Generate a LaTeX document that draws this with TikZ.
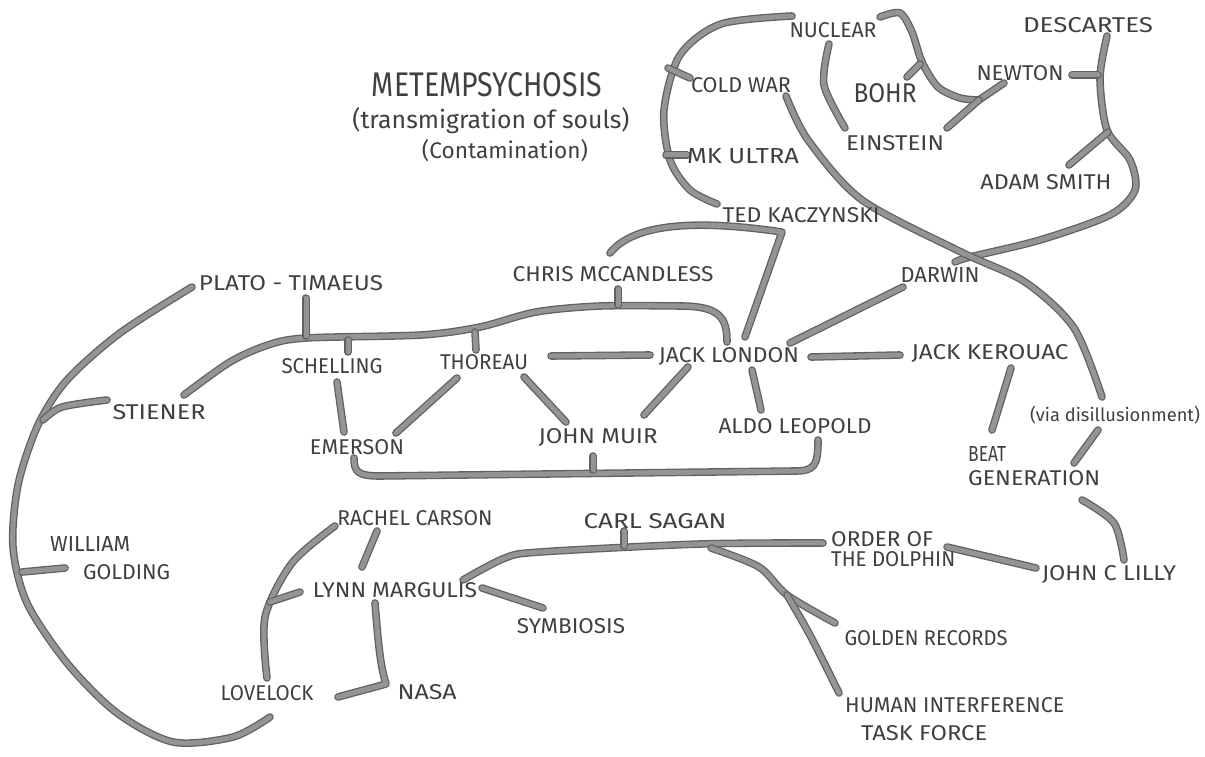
\documentclass[tikz,border=0pt]{standalone}
\usepackage{graphicx}
\usepackage{fontspec}
\setmainfont{Fira Sans}
\newcommand\hw[3][15]{\resizebox{#2pt}{#1pt}{#3}}
\newcommand\sw[2]{\resizebox{#1pt}{!}{#2}}
\begin{document}
\begin{tikzpicture}[x=1pt,y=-1pt,
  lab/.style={inner sep=0pt, text=black!75},
  br/.style={line width=1.3pt, draw=black!62, double=black!42, double distance=5pt, line cap=round, line join=round}]
\useasboundingbox[fill=white] (0,0) rectangle (1205,757);

% ---------- connectors ----------
% big left arc Plato -> Lovelock
\draw[br] plot[smooth] coordinates {(192,287) (120,333) (67,380) (38,425) (18,485) (13,547) (27,603) (67,663) (117,713) (173,742) (233,737) (270,717)};
\draw[br] plot[smooth] coordinates {(43,420) (62,407) (107,400)};
\draw[br] (22,572) -- (65,568);
% main horizontal Stiener -> Jack London
\draw[br] plot[smooth] coordinates {(184,395) (230,362) (268,345) (306,338) (421,335) (480,327) (536,312) (600,306) (680,306)} .. controls (720,306) and (727,318) .. (727,342);
\draw[br] (306,298) -- (306,336);
\draw[br] (348,340) -- (348,352);
\draw[br] (475,332) -- (476,350);
\draw[br] (618,289) -- (618,305);
% around Thoreau / Jack London
\draw[br] (337,382) -- (344,432);
\draw[br] (457,378) -- (396,433);
\draw[br] (524,377) -- (566,422);
\draw[br] (551,356) -- (650,355);
\draw[br] (811,357) -- (900,355);
\draw[br] (688,367) -- (644,415);
\draw[br] (752,370) -- (761,410);
\draw[br] (903,287) -- (790,343);
\draw[br] (610,253) .. controls (635,222) and (700,220) .. (782,232) -- (745,337);
% bottom bracket Emerson -> Aldo Leopold
\draw[br] (354,458) .. controls (354,472) and (358,476) .. (380,476) -- (795,471) .. controls (815,471) and (818,465) .. (818,440);
\draw[br] (593,456) -- (593,470);
% top-left loop
\draw[br] plot[smooth] coordinates {(792,16) (721,24) (680,55) (664,110) (670,160) (690,190) (717,204)};
\draw[br] (668,68) -- (690,78);
\draw[br] (666,155) -- (687,155);
% nuclear / bohr / einstein / newton
\draw[br] plot[smooth] coordinates {(829,44) (824,85) (845,128)};
\draw[br] plot[smooth] coordinates {(880,17) (900,13) (912,32) (922,62) (938,87) (960,98) (979,100)};
\draw[br] (979,100) -- (1004,83);
\draw[br] (979,100) -- (947,128);
\draw[br] (920,64) -- (907,77);
% descartes spine
\draw[br] plot[smooth] coordinates {(1107,36) (1100,78) (1107,130) (1130,160) (1135,190) (1110,215) (1040,240) (970,257) (955,262)};
\draw[br] (1098,75) -- (1072,75);
\draw[br] (1108,132) -- (1069,165);
% cold war -> via disillusionment
\draw[br] plot[smooth] coordinates {(786,96) (808,140) (862,200) (961,252) (1025,282) (1074,328) (1102,397)};
% right side
\draw[br] (1011,368) -- (992,430);
\draw[br] (1098,430) -- (1074,463);
\draw[br] plot[smooth] coordinates {(1082,500) (1114,523) (1124,560)};
\draw[br] (947,547) -- (1036,568);
% carl sagan
\draw[br] plot[smooth] coordinates {(463,580) (505,558) (540,552) (700,544) (823,543)};
\draw[br] (624,531) -- (624,546);
\draw[br] plot[smooth] coordinates {(711,548) (759,567) (787,595) (835,623)};
\draw[br] plot[smooth] coordinates {(787,595) (811,637) (839,693)};
% margulis area
\draw[br] plot[smooth] coordinates {(335,526) (292,563) (265,617) (267,678)};
\draw[br] (300,592) -- (270,602);
\draw[br] (377,531) -- (362,567);
\draw[br] (375,603) .. controls (378,640) and (380,665) .. (386,684) -- (338,697);
\draw[br] (482,588) -- (543,608);

% ---------- labels ----------
\node[lab] (nuclear) at (833,30) {\hw{87}{NUCLEAR}};
\node[lab] (descartes) at (1088,25) {\hw{130}{DESCARTES}};
\node[lab] (coldwar) at (741,85) {\hw{100}{COLD WAR}};
\node[lab] (bohr) at (885,93) {\hw[19]{63}{BOHR}};
\node[lab] (newton) at (1020,73) {\hw{87}{NEWTON}};
\node[lab] (einstein) at (895,143) {\hw{98}{EINSTEIN}};
\node[lab] (meta) at (487,85) {\hw[24]{230}{METEMPSYCHOSIS}};
\node[lab] (trans) at (491,121) {\sw{277}{(transmigration of souls)}};
\node[lab] (contam) at (505,151) {\sw{166}{(Contamination)}};
\node[lab] (mkultra) at (743,156) {\hw{112}{MK ULTRA}};
\node[lab] (adam) at (1046,182) {\hw{131}{ADAM SMITH}};
\node[lab] (ted) at (801,215) {\hw{157}{TED KACZYNSKI}};
\node[lab] (darwin) at (940,275) {\hw{79}{DARWIN}};
\node[lab] (plato) at (291,283) {\hw{184}{PLATO - TIMAEUS}};
\node[lab] (chris) at (613,274) {\hw{201}{CHRIS MCCANDLESS}};
\node[lab] (schelling) at (332,366) {\hw{101}{SCHELLING}};
\node[lab] (thoreau) at (484,362) {\hw{88}{THOREAU}};
\node[lab] (jacklondon) at (729,356) {\hw{140}{JACK LONDON}};
\node[lab] (kerouac) at (990,353) {\hw{157}{JACK KEROUAC}};
\node[lab] (stiener) at (159,412) {\hw{93}{STIENER}};
\node[lab] (emerson) at (357,447) {\hw{94}{EMERSON}};
\node[lab] (muir) at (598,437) {\hw{119}{JOHN MUIR}};
\node[lab] (aldo) at (795,426) {\hw{153}{ALDO LEOPOLD}};
\node[lab] (via) at (1115,415) {\sw{170}{(via disillusionment)}};
\node[lab, anchor=west, align=left, font=\fontsize{10}{24}\selectfont] (beat) at (968,466) {\hw{38}{BEAT}\\\hw{132}{GENERATION}};
\node[lab, anchor=west, align=left, font=\fontsize{10}{28}\selectfont] (william) at (50,558) {\hw{80}{WILLIAM}\\\hspace*{33pt}\hw{87}{GOLDING}};
\node[lab] (rachel) at (415,518) {\hw{155}{RACHEL CARSON}};
\node[lab] (carl) at (655,521) {\hw{143}{CARL SAGAN}};
\node[lab, anchor=west, align=left, font=\fontsize{10}{20}\selectfont] (order) at (831,549) {\hw{102}{ORDER OF}\\\hw{124}{THE DOLPHIN}};
\node[lab] (lilly) at (1109,574) {\hw{134}{JOHN C LILLY}};
\node[lab] (lynn) at (395,590) {\hw{164}{LYNN MARGULIS}};
\node[lab] (symbiosis) at (571,626) {\hw{108}{SYMBIOSIS}};
\node[lab] (golden) at (926,638) {\hw{163}{GOLDEN RECORDS}};
\node[lab, anchor=west, align=left, font=\fontsize{10}{28}\selectfont] (hitf) at (845,719) {\hw{219}{HUMAN INTERFERENCE}\\\hspace*{16pt}\hw{126}{TASK FORCE}};
\node[lab] (lovelock) at (267,693) {\hw{93}{LOVELOCK}};
\node[lab] (nasa) at (427,692) {\hw{59}{NASA}};
\end{tikzpicture}
\end{document}
